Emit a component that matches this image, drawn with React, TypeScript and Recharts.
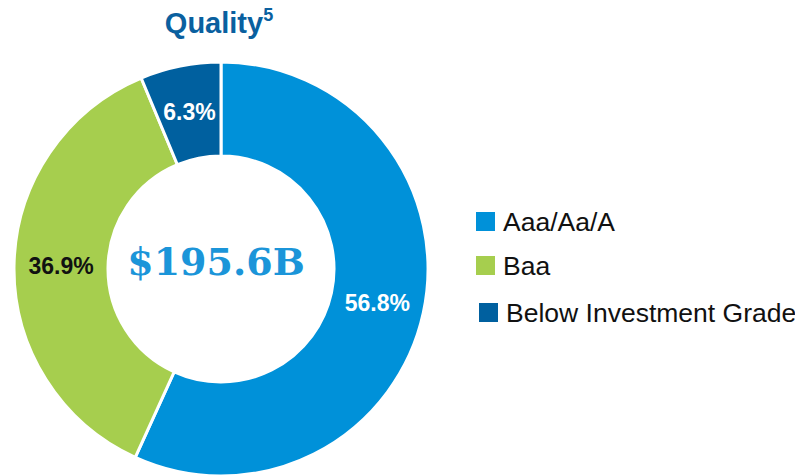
import React from 'react';
import { PieChart, Pie, Cell, Legend } from 'recharts';

const categories = ['Aaa/Aa/A', 'Baa', 'Below Investment Grade'];
const values = [56.8, 36.9, 6.3];
const colors = ['#0091D9', '#A6CE4E', '#00609F'];
const labelColors = ['#FFFFFF', '#111111', '#FFFFFF'];
const title = 'Quality';
const titleSup = '5';
const centerText = '$195.6B';

const data = categories.map((name, i) => ({ name, value: values[i] }));

const RAD = Math.PI / 180;

const renderLabel = (props: any) => {
  const { cx, cy, midAngle, innerRadius, outerRadius, index, value } = props;
  const r = (innerRadius + outerRadius) / 2;
  const x = cx + r * Math.cos(-midAngle * RAD);
  const y = cy + r * Math.sin(-midAngle * RAD);
  return (
    <text
      x={x}
      y={y}
      textAnchor="middle"
      dominantBaseline="central"
      fill={labelColors[index]}
      fontFamily="Liberation Sans, Arial, sans-serif"
      fontWeight="bold"
      fontSize={23}
    >
      {value.toFixed(1)}%
    </text>
  );
};

const legendRows = [
  { top: 212, left: 476, textLeft: 503 },
  { top: 256, left: 476, textLeft: 503 },
  { top: 303, left: 479, textLeft: 506 },
];

const renderLegend = () => (
  <div style={{ position: 'relative', width: 795, height: 476 }}>
    {data.map((d, i) => (
      <React.Fragment key={d.name}>
        <div
          style={{
            position: 'absolute',
            left: legendRows[i].left,
            top: legendRows[i].top,
            width: 19,
            height: 19,
            background: colors[i],
          }}
        />
        <div
          style={{
            position: 'absolute',
            left: legendRows[i].textLeft,
            top: legendRows[i].top + 9.5,
            transform: 'translateY(-50%)',
            fontFamily: 'Liberation Sans, Arial, sans-serif',
            fontSize: 26.5,
            color: '#111111',
            whiteSpace: 'nowrap',
            lineHeight: '30px',
          }}
        >
          {d.name}
        </div>
      </React.Fragment>
    ))}
  </div>
);

export default function App() {
  return (
    <div style={{ position: 'absolute', left: 0, top: 0, width: 795, height: 476, background: '#fff' }}>
      <PieChart width={795} height={476} margin={{ top: 0, right: 0, bottom: 0, left: 0 }}>
        <text
          x={219}
          y={33}
          textAnchor="middle"
          fill="#0A609F"
          fontFamily="Liberation Sans, Arial, sans-serif"
          fontWeight="bold"
          fontSize={29}
        >
          {title}
          <tspan fontSize={18} dy={-12}>{titleSup}</tspan>
        </text>
        <Pie
          data={data}
          dataKey="value"
          nameKey="name"
          cx={221}
          cy={269}
          innerRadius={113}
          outerRadius={207}
          startAngle={90}
          endAngle={-270}
          stroke="#FFFFFF"
          strokeWidth={3}
          label={renderLabel}
          labelLine={false}
          isAnimationActive={false}
        >
          {data.map((d, i) => (
            <Cell key={d.name} fill={colors[i]} />
          ))}
        </Pie>
        <text
          x={216}
          y={275}
          textAnchor="middle"
          fill="#1B95D9"
          fontFamily="DejaVu Serif, serif"
          fontWeight="bold"
          fontSize={38}
        >
          {centerText}
        </text>
        <Legend
          content={renderLegend}
          wrapperStyle={{ position: 'absolute', left: 0, top: 0, width: 795, height: 476 }}
        />
      </PieChart>
    </div>
  );
}
